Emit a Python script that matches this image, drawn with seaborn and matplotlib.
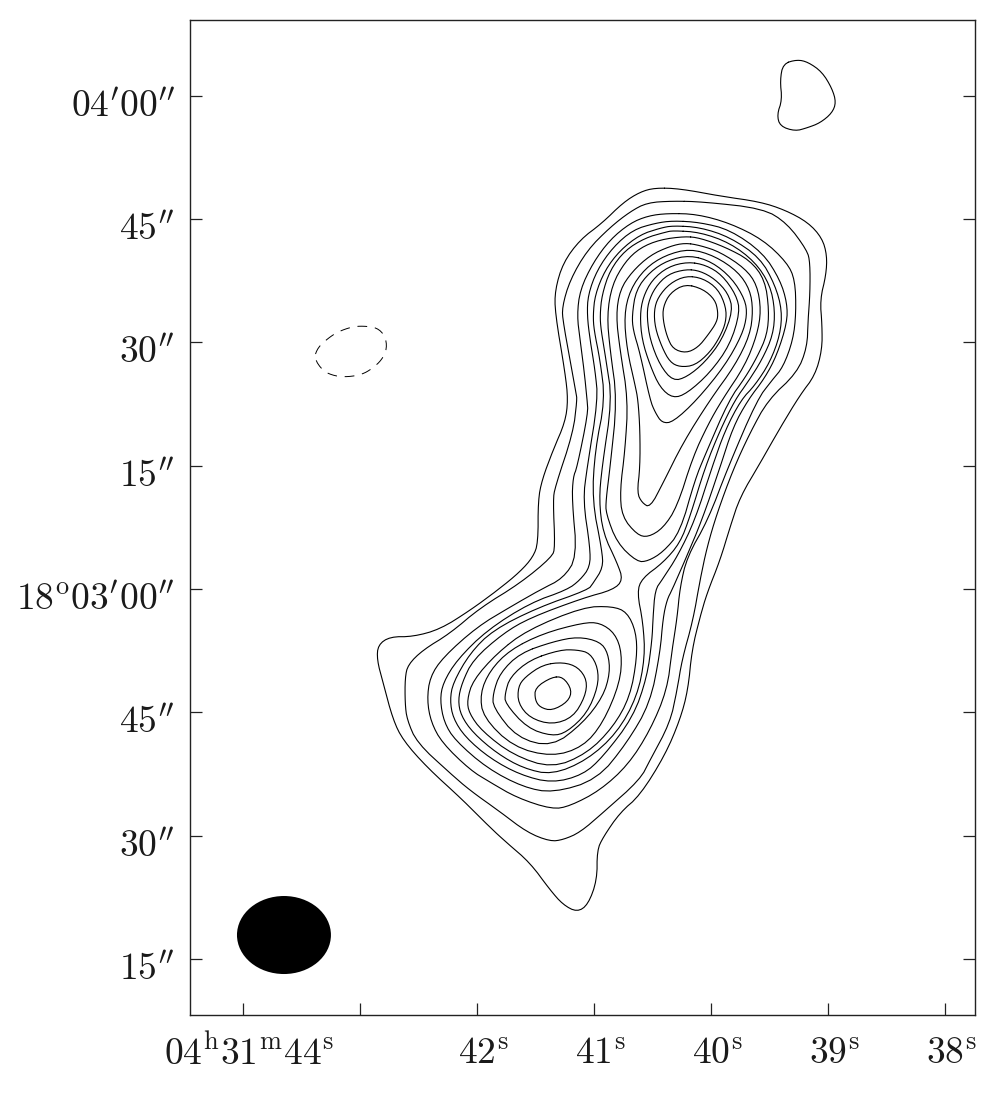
import numpy as np
import seaborn as sns
import matplotlib.pyplot as plt
from matplotlib.patches import Ellipse
from matplotlib.transforms import ScaledTranslation

# contours: RA seconds (04h31m + s), Dec arcsec from 18d03m00s
c01_ra = [40.478,40.265,39.923,39.581,39.367,39.171,39.051,39.009,39.017,39.068,39.051,39.051,39.111,39.239,39.410,39.581,39.752,39.838,39.923,40.034,40.094,40.163,40.197,40.265,40.393,40.607,40.778,40.923,40.974,40.974,41.051,41.145,41.265,41.376,41.547,41.743,41.889,42.119,42.427,42.632,42.718,42.803,42.855,42.846,42.744,42.547,42.316,42.060,41.820,41.632,41.521,41.478,41.478,41.444,41.350,41.247,41.222,41.247,41.333,41.333,41.264,41.119,40.932,40.752,40.607]
c01_dec = [48.8,48.7,47.8,47.1,46.1,44.6,42.7,40.6,38.2,35.2,32.1,29.1,26.0,23.6,19.6,15.3,11.2,7.5,3.5,-0.5,-3.4,-7.4,-12.3,-15.9,-20.2,-25.1,-27.2,-30.2,-31.8,-35.4,-38.4,-39.3,-38.4,-36.6,-33.3,-30.9,-29.0,-25.7,-21.7,-18.4,-15.9,-11.4,-8.6,-6.8,-5.8,-5.8,-4.9,-2.6,-0.1,2.1,3.9,5.6,10.8,13.3,16.9,20.3,23.0,26.3,33.6,36.4,39.7,42.5,44.5,47.0,48.3]
c02_ra = [40.325,40.069,39.556,39.350,39.179,39.154,39.154,39.171,39.179,39.265,39.513,39.667,39.812,39.949,40.034,40.094,40.154,40.248,40.290,40.351,40.521,40.607,40.923,41.119,41.264,41.376,41.572,41.803,42.060,42.231,42.513,42.598,42.615,42.615,42.590,42.461,42.231,41.974,41.632,41.359,41.333,41.350,41.333,41.179,41.145,41.153,41.264,41.273,41.205,41.059,40.863,40.692,40.547]
c02_dec = [47.2,47.1,46.3,44.5,41.2,39.7,36.0,32.7,29.4,26.3,23.0,19.0,14.5,9.2,5.1,1.1,-3.8,-8.6,-12.3,-16.3,-20.8,-23.2,-27.2,-29.6,-30.5,-30.7,-29.6,-27.1,-24.5,-22.4,-18.7,-15.9,-13.9,-10.8,-9.2,-7.4,-5.4,-2.3,0.7,3.9,5.1,10.8,12.4,19.0,23.0,23.8,32.4,34.3,37.6,41.2,44.0,45.9,47.0]
c03_ra = [40.368,40.120,39.838,39.556,39.350,39.282,39.273,39.299,39.384,39.479,39.607,39.855,40.026,40.205,40.265,40.290,40.333,40.376,40.521,40.709,40.949,41.205,41.359,41.658,41.889,42.060,42.299,42.393,42.427,42.402,42.290,41.999,41.718,41.461,41.264,41.145,41.188,41.179,41.145,41.051,41.059,41.085,41.119,41.145,41.119,41.008,40.863,40.692,40.538]
c03_dec = [45.7,45.6,44.5,42.5,39.7,37.6,33.6,30.3,27.0,25.4,23.0,14.8,8.4,3.9,0.2,-3.5,-7.4,-12.3,-17.2,-21.4,-24.5,-26.4,-26.8,-25.4,-23.5,-22.0,-18.7,-16.2,-13.5,-10.7,-8.3,-4.6,-2.2,-0.1,1.3,3.9,10.8,13.6,14.8,21.4,23.0,26.6,30.3,33.3,36.4,39.7,42.5,44.5,45.4]
c04_ra = [40.325,40.094,39.838,39.556,39.410,39.350,39.350,39.436,39.539,39.684,39.812,39.923,40.077,40.222,40.333,40.376,40.410,40.436,40.521,40.718,40.974,41.350,41.606,41.914,42.188,42.282,42.316,42.290,42.170,41.914,41.547,41.230,41.119,41.034,41.034,41.094,41.059,40.966,40.991,41.034,41.059,41.051,40.974,40.837,40.666,40.478]
c04_dec = [44.8,44.6,43.7,40.9,37.6,34.8,32.4,28.5,25.7,23.0,19.7,14.8,8.4,3.5,-0.1,-1.3,-3.5,-7.8,-13.9,-18.7,-23.2,-24.8,-24.1,-21.8,-18.4,-16.2,-13.5,-11.4,-8.6,-5.0,-1.7,-0.1,1.1,2.7,5.1,10.8,14.8,23.0,26.6,30.3,33.3,35.8,38.8,41.6,43.7,44.5]
c05_ra = [40.325,40.094,39.838,39.581,39.453,39.393,39.410,39.496,39.624,39.744,39.880,39.992,40.137,40.282,40.419,40.478,40.496,40.504,40.547,40.666,40.923,41.094,41.359,41.632,41.889,42.102,42.205,42.231,42.205,42.060,41.863,41.487,41.051,41.008,40.923,40.932,41.016,40.991,40.906,40.949,41.000,41.008,40.991,40.906,40.778,40.607,40.436]
c05_dec = [44.2,44.0,42.8,40.3,37.0,33.9,30.9,27.6,24.8,23.0,19.3,14.8,8.4,4.1,1.1,-0.1,-3.5,-6.2,-10.7,-15.6,-20.4,-22.6,-23.6,-22.6,-20.6,-18.0,-15.7,-13.5,-11.4,-7.8,-5.0,-2.3,-0.1,0.7,2.6,4.7,10.8,16.9,23.0,27.9,31.5,33.3,35.8,38.8,41.2,43.1,43.9]
c06_ra = [40.325,40.094,39.838,39.624,39.496,39.453,39.470,39.564,39.684,39.795,39.923,40.051,40.180,40.265,40.410,40.590,40.632,40.581,40.564,40.632,40.803,41.059,41.359,41.606,41.829,42.034,42.137,42.162,42.128,42.034,41.777,41.547,41.094,40.837,40.752,40.803,40.923,40.957,40.932,40.846,40.898,40.940,40.949,40.932,40.863,40.735,40.564,40.393]
c06_dec = [43.6,43.4,42.1,39.8,37.0,33.9,30.9,27.9,25.2,23.0,19.3,14.8,8.8,5.6,3.2,1.3,-0.4,-4.1,-8.3,-13.1,-17.5,-20.8,-22.6,-21.8,-20.0,-17.5,-15.4,-13.5,-11.4,-8.6,-5.4,-3.5,-1.1,-0.1,1.1,3.2,6.8,10.8,14.8,23.0,27.9,31.5,33.3,35.8,38.8,41.2,42.7,43.4]
c07_ra = [40.222,40.094,39.880,39.667,39.539,39.504,39.521,39.607,39.709,39.846,40.051,40.137,40.265,40.410,40.538,40.632,40.803,40.898,40.898,40.863,40.803,40.863,40.889,40.846,40.735,40.607,40.436]
c07_dec = [42.9,42.7,41.6,40.0,37.6,33.9,30.9,28.2,25.7,23.0,16.3,13.3,6.9,4.5,3.4,3.3,5.6,9.2,10.8,14.8,23.0,29.1,33.3,37.0,39.8,41.5,42.5]
c08_ra = [40.222,40.094,39.923,39.709,39.607,39.572,39.607,39.709,39.906,40.026,40.154,40.290,40.410,40.538,40.632,40.761,40.778,40.735,40.709,40.778,40.812,40.778,40.675,40.521,40.351]
c08_dec = [42.1,41.8,41.0,39.0,37.0,33.9,30.9,27.2,23.0,20.0,16.1,10.0,7.4,6.3,6.6,8.8,12.0,16.9,23.0,29.1,33.3,36.4,38.6,40.6,41.7]
c09_ra = [40.180,39.966,39.769,39.667,39.641,39.667,39.795,40.009,40.239,40.410,40.521,40.590,40.632,40.607,40.607,40.624,40.649,40.718,40.743,40.692,40.564,40.393]
c09_dec = [41.4,40.5,38.6,36.4,33.9,30.9,27.2,23.0,17.8,12.9,9.9,10.5,11.7,14.8,19.3,23.0,24.8,29.1,33.3,36.4,39.0,40.6]
c10_ra = [40.180,39.992,39.821,39.709,39.692,39.735,39.880,40.120,40.325,40.419,40.478,40.521,40.607,40.666,40.675,40.641,40.521,40.368]
c10_dec = [40.6,39.8,37.8,35.2,33.3,30.9,27.2,23.0,20.3,20.2,21.5,23.0,28.7,31.5,33.3,36.4,38.6,40.0]
c11_ra = [40.197,40.043,39.906,39.786,39.752,39.838,40.009,40.205,40.325,40.436,40.521,40.590,40.607,40.581,40.504,40.368]
c11_dec = [39.8,39.4,38.2,35.8,33.7,29.7,26.3,23.8,23.2,24.5,27.2,30.3,33.3,35.5,37.6,39.2]
c12_ra = [40.214,40.094,39.966,39.855,39.812,39.906,40.051,40.205,40.325,40.436,40.521,40.547,40.538,40.478,40.368]
c12_dec = [38.9,38.7,37.7,36.0,33.9,30.3,27.6,25.8,25.3,27.2,30.3,33.0,34.8,36.7,38.3]
c13_ra = [40.214,40.069,39.940,39.872,39.872,39.923,40.009,40.137,40.265,40.351,40.419,40.478,40.487,40.453,40.351]
c13_dec = [38.1,37.8,36.5,34.3,32.5,30.7,28.8,27.2,27.0,27.6,29.4,31.8,33.9,35.5,37.2]
c14_ra = [40.222,40.069,39.966,39.940,39.949,40.026,40.111,40.214,40.325,40.376,40.410,40.410,40.351]
c14_dec = [37.1,36.5,35.2,33.7,32.5,30.9,29.4,28.7,29.2,30.7,32.7,34.3,36.0]

# closed loops around the southern peak
s1_ra = [41.359,41.264,41.188,41.222,41.359,41.461,41.504,41.504]
s1_dec = [-10.7,-10.7,-12.3,-13.7,-14.8,-14.4,-13.5,-12.0]
s2_ra = [41.436,41.264,41.136,41.059,41.076,41.179,41.359,41.547,41.649,41.649,41.589]
s2_dec = [-9.2,-8.9,-9.5,-11.1,-13.1,-15.6,-16.5,-15.7,-13.9,-11.9,-10.7]
s3_ra = [41.547,41.290,41.145,41.034,40.966,40.966,41.059,41.230,41.359,41.572,41.760,41.760,41.718]
s3_dec = [-8.6,-7.4,-7.4,-7.8,-9.6,-11.9,-15.1,-17.4,-17.9,-16.9,-13.9,-12.7,-10.7]
s4_ra = [41.632,41.350,41.136,40.949,40.880,40.863,40.923,41.094,41.359,41.658,41.863,41.863,41.803]
s4_dec = [-7.8,-6.4,-5.8,-6.4,-7.8,-10.2,-13.1,-16.3,-19.2,-18.1,-14.4,-12.7,-10.2]
s5_ra = [41.718,41.436,41.094,40.949,40.820,40.761,40.778,40.923,41.094,41.359,41.692,41.948,41.974,41.889]
s5_dec = [-7.4,-5.4,-4.1,-4.1,-5.4,-7.8,-11.4,-16.3,-19.2,-20.4,-19.2,-15.6,-12.7,-9.9]
s6_ra = [41.829,41.572,41.094,40.846,40.718,40.641,40.632,40.692,40.837,41.059,41.359,41.692,41.957,42.068,42.085,42.034]
s6_dec = [-7.8,-5.0,-2.2,-2.1,-2.8,-5.2,-8.3,-13.1,-16.8,-20.0,-21.8,-20.2,-17.3,-15.1,-13.5,-11.1]

# isolated patch top right, negative patch on the left (dashed)
patch_ra = [39.384,39.265,39.171,39.051,38.966,38.931,38.966,39.068,39.179,39.282,39.410,39.436,39.393,39.410]
patch_dec = [63.9,64.4,64.1,62.9,60.9,59.2,57.9,56.7,56.1,55.7,56.3,57.7,59.5,61.9]
neg_ra = [43.393,43.359,43.273,43.188,43.068,42.974,42.855,42.786,42.769,42.812,42.897,42.983,43.103,43.214,43.316]
neg_dec = [28.1,29.4,30.5,31.3,31.9,32.0,31.8,30.8,29.3,27.9,26.8,26.1,25.8,25.9,26.5]

# beam
beam_ra, beam_dec = 43.650, -42.09
beam_w, beam_h = 0.803, 9.49

x_ticks = [44, 43, 42, 41, 40, 39, 38]
x_labels = [r"$04^{\mathrm{h}}31^{\mathrm{m}}44^{\mathrm{s}}$", "", r"$42^{\mathrm{s}}$", r"$41^{\mathrm{s}}$",
            r"$40^{\mathrm{s}}$", r"$39^{\mathrm{s}}$", r"$38^{\mathrm{s}}$"]
y_ticks = [60, 45, 30, 15, 0, -15, -30, -45]
y_labels = [r"$04^{\prime}00^{\prime\prime}$", r"$45^{\prime\prime}$", r"$30^{\prime\prime}$", r"$15^{\prime\prime}$",
            r"$18^{\mathrm{o}}03^{\prime}00^{\prime\prime}$", r"$45^{\prime\prime}$", r"$30^{\prime\prime}$", r"$15^{\prime\prime}$"]


def rounded(xs, ys, passes=2):
    # corner cutting so the closed outline draws as a curve, not a polygon
    pts = np.column_stack([xs, ys])
    for _ in range(passes):
        nxt = np.roll(pts, -1, axis=0)
        pts = np.stack([0.75 * pts + 0.25 * nxt, 0.25 * pts + 0.75 * nxt], axis=1).reshape(-1, 2)
    pts = np.vstack([pts, pts[:1]])
    return pts[:, 0], pts[:, 1]


sns.set_theme(style="white")
plt.rcParams["mathtext.fontset"] = "cm"

fig = plt.figure(figsize=(9.96, 11.03), dpi=100)
ax = fig.add_axes([190 / 996, 88 / 1103, 785 / 996, 995 / 1103])

contours = [(c01_ra, c01_dec), (c02_ra, c02_dec), (c03_ra, c03_dec), (c04_ra, c04_dec), (c05_ra, c05_dec),
            (c06_ra, c06_dec), (c07_ra, c07_dec), (c08_ra, c08_dec), (c09_ra, c09_dec), (c10_ra, c10_dec),
            (c11_ra, c11_dec), (c12_ra, c12_dec), (c13_ra, c13_dec), (c14_ra, c14_dec),
            (s1_ra, s1_dec), (s2_ra, s2_dec), (s3_ra, s3_dec), (s4_ra, s4_dec), (s5_ra, s5_dec), (s6_ra, s6_dec),
            (patch_ra, patch_dec)]
for ra, dec in contours:
    xs, ys = rounded(ra, dec)
    sns.lineplot(x=xs, y=ys, sort=False, estimator=None, color="black", linewidth=0.8, ax=ax)

xs, ys = rounded(neg_ra, neg_dec)
sns.lineplot(x=xs, y=ys, sort=False, estimator=None, color="black", linewidth=0.7,
             linestyle=(0, (10, 8)), ax=ax)

ax.add_patch(Ellipse((beam_ra, beam_dec), beam_w, beam_h, facecolor="black", edgecolor="none"))

ax.set_xlim(44.453, 37.744)
ax.set_ylim(-51.82, 69.22)
ax.set_xticks(x_ticks)
ax.set_xticklabels(x_labels, fontsize=27, color="#1a1a1a")
ax.set_yticks(y_ticks)
ax.set_yticklabels(y_labels, fontsize=27, color="#1a1a1a")
ax.tick_params(axis="both", which="major", direction="in", length=8.5, width=0.9, color="#222222",
               left=True, right=True, bottom=True, top=False)
ax.tick_params(axis="x", pad=15)
ax.tick_params(axis="y", pad=11)
x_shift = ScaledTranslation(6 / 100, 0, fig.dpi_scale_trans)
y_shift = ScaledTranslation(0, -7 / 100, fig.dpi_scale_trans)
for lab in ax.get_xticklabels():
    lab.set_transform(lab.get_transform() + x_shift)
for lab in ax.get_yticklabels():
    lab.set_transform(lab.get_transform() + y_shift)
for side in ax.spines.values():
    side.set_linewidth(1.0)
    side.set_color("#222222")

plt.savefig("out.png", dpi=100)
